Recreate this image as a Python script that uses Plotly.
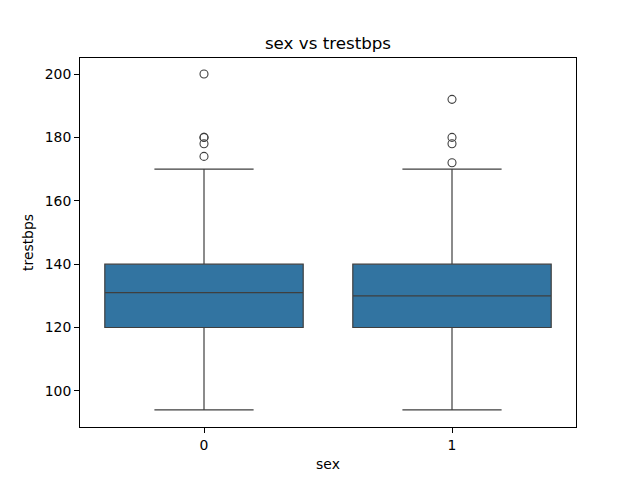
import plotly.graph_objects as go

categories = [0, 1]
q1 = [120, 120]
median = [131, 130]
q3 = [140, 140]
lower = [94, 94]
upper = [170, 170]
outliers_0 = [174, 178, 180, 180, 200]
outliers_1 = [172, 178, 180, 192]

line_c = "#3f3f3f"
fig = go.Figure()
fig.add_trace(go.Box(
    x=categories, q1=q1, median=median, q3=q3,
    lowerfence=lower, upperfence=upper,
    width=0.8, whiskerwidth=0.5,
    fillcolor="#3274a1", line=dict(color=line_c, width=1.2),
    boxpoints=False, showlegend=False, hoverinfo="skip",
))
ox = [categories[0]] * len(outliers_0) + [categories[1]] * len(outliers_1)
oy = outliers_0 + outliers_1
fig.add_trace(go.Scatter(
    x=ox, y=oy, mode="markers", showlegend=False,
    marker=dict(symbol="circle-open", size=8, color=line_c, line=dict(width=1.1, color=line_c)),
))

axis_common = dict(showline=True, linecolor="black", linewidth=1, mirror=True,
                   ticks="outside", ticklen=5, tickcolor="black", showgrid=False,
                   zeroline=False, tickfont=dict(size=13.9, color="black"))
fig.update_layout(
    width=640, height=480,
    margin=dict(l=72, r=72, t=50, b=61),
    paper_bgcolor="white", plot_bgcolor="white",
    font=dict(family="DejaVu Sans", color="black"),
    title=dict(text="sex vs trestbps", x=0.5, xanchor="center", y=0.927, yanchor="middle",
               font=dict(size=16.7, color="black")),
    xaxis=dict(range=[-0.5, 1.5], tickvals=categories, ticktext=[str(c) for c in categories],
               title=dict(text="sex", font=dict(size=13.9), standoff=7), **axis_common),
    yaxis=dict(range=[88.6, 205.05], tickvals=[100, 120, 140, 160, 180, 200],
               title=dict(text="trestbps", font=dict(size=13.9), standoff=7), **axis_common),
)
fig.write_html("out.html")
